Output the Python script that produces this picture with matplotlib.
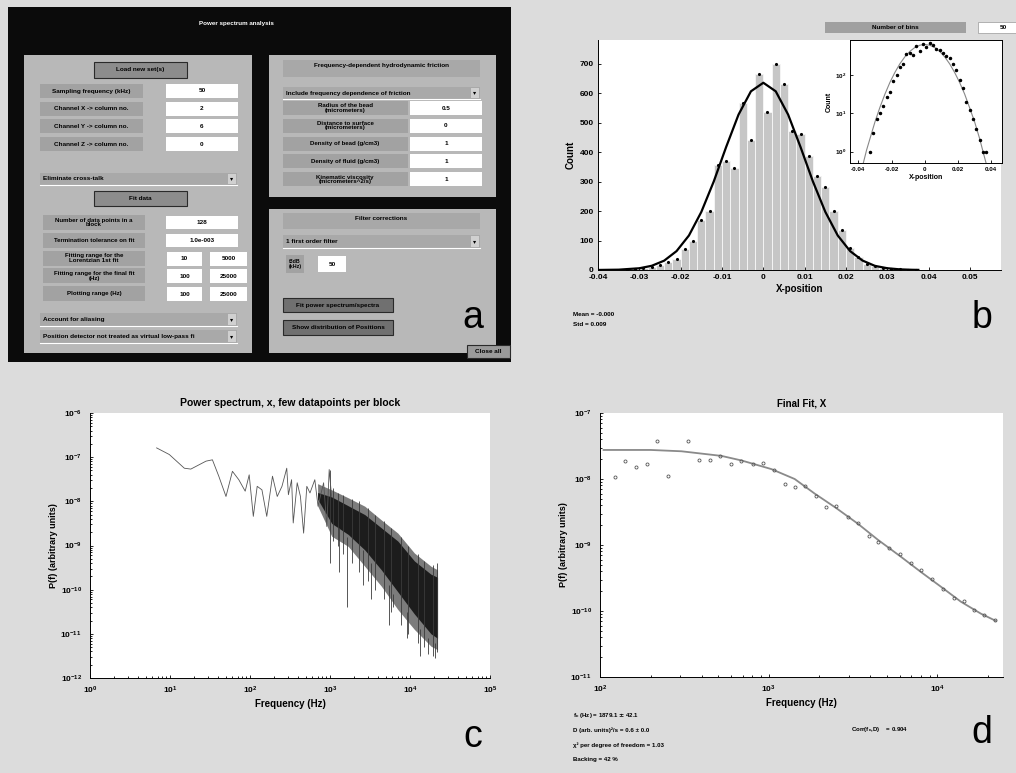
import numpy as np
import matplotlib
matplotlib.use("Agg")
import matplotlib.pyplot as plt
from matplotlib.patches import Rectangle

W, H = 1016, 773

# ---- panel b: histogram of X positions ----
bin_centers = [-0.033, -0.031, -0.029, -0.027, -0.025, -0.023, -0.021, -0.019,
               -0.017, -0.015, -0.013, -0.011, -0.009, -0.007, -0.005, -0.003,
               -0.001, 0.001, 0.003, 0.005, 0.007, 0.009, 0.011, 0.013, 0.015,
               0.017, 0.019, 0.021, 0.023, 0.025, 0.027, 0.029, 0.031, 0.033,
               0.035, 0.037]
bin_counts = [1, 3, 7, 10, 16, 26, 36, 70, 100, 168, 200, 355, 370, 345, 568,
              440, 665, 535, 700, 630, 470, 460, 385, 320, 280, 200, 135, 75,
              45, 20, 12, 7, 4, 2, 1, 1]
gauss_x = [-0.040, -0.035, -0.030, -0.027, -0.024, -0.021, -0.018, -0.015,
           -0.012, -0.009, -0.006, -0.003, 0.0, 0.003, 0.006, 0.009, 0.012,
           0.015, 0.018, 0.021, 0.024, 0.027, 0.030, 0.033, 0.036, 0.0375]
gauss_y = [0.15, 1.1, 5.9, 14.3, 31.6, 64, 117, 197, 300, 417, 527, 606, 635,
           606, 527, 417, 300, 197, 117, 64, 32, 14, 6, 2.2, 0.7, 0.4]
hist_ticks = [-0.04, -0.03, -0.02, -0.01, 0, 0.01, 0.02, 0.03, 0.04, 0.05]
hist_ticklabels = ["-0.04", "-0.03", "-0.02", "-0.01", "0", "0.01", "0.02",
                   "0.03", "0.04", "0.05"]

# ---- panel c: raw power spectrum ----
spec_f = [6.8, 9.8, 15.1, 18.2, 28.2, 33.9, 40.7, 50.1, 60.3, 72.4, 87.1, 97.7,
          110, 123, 141, 162, 191, 219, 251, 288, 302, 331, 347, 389, 427, 468,
          513, 562, 646, 708, 832, 912, 977, 1047]
spec_logp = [-6.79, -6.94, -7.25, -7.27, -7.09, -7.06, -7.43, -7.89, -7.32,
             -7.51, -7.77, -7.40, -8.34, -7.66, -7.74, -8.34, -7.43, -7.89,
             -7.66, -7.25, -7.85, -7.51, -8.49, -7.58, -7.89, -8.72, -7.66,
             -7.81, -7.51, -8.11, -7.58, -8.57, -7.28, -7.89]
band_f = [700, 1050, 1690, 2720, 4380, 7050, 11350, 18300, 22100]
band_outer_hi = [-7.60, -7.74, -7.92, -8.11, -8.42, -8.72, -9.17, -9.47, -9.55]
band_outer_lo = [-8.10, -8.79, -9.02, -9.47, -9.92, -10.45, -10.90, -11.28, -11.36]
band_core_hi = [-7.80, -7.90, -8.10, -8.30, -8.60, -8.90, -9.35, -9.65, -9.72]
band_core_lo = [-7.95, -8.50, -8.75, -9.10, -9.55, -10.05, -10.55, -11.00, -11.10]
spike_f = [1000, 1100, 1250, 1300, 1450, 1650, 1900, 2300, 2600, 3000, 3300,
           3600, 4800, 5500, 5800, 6100, 7800, 9200, 9500, 12500, 13500, 15000,
           17000, 19500, 20500, 21800]
spike_top = [-7.30, -7.70, -7.80, -8.60, -7.85, -8.80, -7.95, -8.00, -9.10,
             -8.15, -9.40, -8.30, -8.45, -9.90, -8.60, -10.10, -8.80, -10.50,
             -9.00, -9.20, -10.90, -9.35, -11.10, -9.45, -11.20, -9.40]
spike_bot = [-9.40, -8.90, -9.00, -9.60, -9.20, -10.40, -9.40, -9.60, -9.90,
             -9.80, -10.20, -10.00, -10.20, -10.80, -10.50, -10.40, -10.80,
             -11.10, -11.00, -11.20, -11.50, -11.30, -11.45, -11.50, -11.55,
             -11.40]

# ---- panel d: blocked spectrum and final fit ----
blk_f = [123, 141, 163, 189, 219, 254, 334, 386, 448, 513, 601, 689, 807, 925,
         1076, 1245, 1426, 1648, 1914, 2193, 2512, 2944, 3373, 3908, 4477,
         5200, 6039, 6982, 7998, 9247, 10765, 12503, 14322, 16558, 18967, 21928]
blk_logp = [-7.97, -7.73, -7.82, -7.78, -7.43, -7.95, -7.42, -7.71, -7.71,
            -7.65, -7.78, -7.73, -7.78, -7.75, -7.87, -8.07, -8.12, -8.10,
            -8.26, -8.43, -8.41, -8.58, -8.67, -8.86, -8.96, -9.04, -9.14,
            -9.27, -9.38, -9.52, -9.66, -9.81, -9.85, -9.99, -10.06, -10.13]
fit_f = [105, 200, 304, 525, 692, 1038, 1426, 1871, 2512, 3388, 4436, 6095,
         8000, 10471, 13804, 18113, 22233]
fit_logp = [-7.56, -7.56, -7.58, -7.65, -7.72, -7.85, -8.00, -8.22, -8.44,
            -8.68, -8.92, -9.18, -9.41, -9.63, -9.86, -10.04, -10.15]

# fit results printed under panel d
fit_results = [r"f$_c$ (Hz) = 1879.1 $\pm$ 42.1",
               "D (arb. units)\u00b2/s = 0.6 \u00b1 0.0",
               "\u03c7\u00b2 per degree of freedom = 1.03",
               "Backing = 42 %"]

plt.rcParams['font.family'] = ['Liberation Sans', 'DejaVu Sans']
plt.rcParams['font.weight'] = 'bold'
plt.rcParams['axes.titleweight'] = 'bold'
plt.rcParams['axes.labelweight'] = 'bold'
plt.rcParams['mathtext.default'] = 'bf'

fig = plt.figure(figsize=(W / 100, H / 100), dpi=100, facecolor='#dcdcdc')


def px_axes(x0, y0, x1, y1):
    return fig.add_axes([x0 / W, 1 - y1 / H, (x1 - x0) / W, (y1 - y0) / H])


def style(ax, box=False, size=6):
    ax.tick_params(which='both', direction='in', labelsize=size, width=0.6,
                   length=2.5, pad=3)
    ax.tick_params(which='minor', length=1.5)
    for s in ['top', 'right']:
        ax.spines[s].set_visible(box)
    for s in ax.spines.values():
        s.set_linewidth(0.7)


# ---- panel b ----
axb = px_axes(598, 40, 1001, 270)
axb.bar(bin_centers, bin_counts, width=0.002, color='#c6c6c6',
        edgecolor='#f4f4f4', linewidth=0.7)
axb.plot(bin_centers, bin_counts, 'k.', ms=2.5)
axb.plot(gauss_x, gauss_y, color='black', lw=1.6)
axb.set_xlim(-0.04, 0.0575)
axb.set_ylim(0, 780)
axb.set_xticks(hist_ticks)
axb.set_xticklabels(hist_ticklabels)
axb.set_yticks(range(0, 800, 100))
axb.set_xlabel("X-position", fontsize=7, labelpad=2)
axb.set_ylabel("Count", fontsize=7, labelpad=3)
style(axb)

axi = px_axes(850, 40, 1002, 163)
axi.semilogy(gauss_x, gauss_y, color='#888888', lw=0.8)
axi.semilogy(bin_centers, bin_counts, 'k.', ms=3)
axi.set_xlim(-0.045, 0.0465)
axi.set_ylim(0.5, 830)
axi.set_xticks([-0.04, -0.02, 0, 0.02, 0.04])
axi.set_xticklabels(["-0.04", "-0.02", "0", "0.02", "0.04"])
axi.set_yticks([1, 10, 100])
axi.minorticks_off()
axi.set_xlabel("X-position", fontsize=5, labelpad=1)
axi.set_ylabel("Count", fontsize=5, labelpad=1)
style(axi, box=True, size=4.5)

# ---- panel c ----
axc = px_axes(90, 413, 490, 678)
axc.fill_between(band_f, 10.0 ** np.array(band_outer_lo),
                 10.0 ** np.array(band_outer_hi), color='#7c7c7c', lw=0)
axc.fill_between(band_f, 10.0 ** np.array(band_core_lo),
                 10.0 ** np.array(band_core_hi), color='#1c1c1c', lw=0)
axc.vlines(spike_f, 10.0 ** np.array(spike_bot), 10.0 ** np.array(spike_top),
           color='#3a3a3a', lw=0.6)
axc.loglog(spec_f, 10.0 ** np.array(spec_logp), color='#555555', lw=0.6)
axc.set_xlim(1, 1e5)
axc.set_ylim(1e-12, 1e-6)
axc.set_title("Power spectrum, x, few datapoints per block", fontsize=7.5, pad=5)
axc.set_xlabel("Frequency (Hz)", fontsize=7, labelpad=2)
axc.set_ylabel("P(f) (arbitrary units)", fontsize=6.5, labelpad=2)
style(axc)
axc.tick_params(axis='y', pad=6)
axc.tick_params(axis='x', pad=5)

# ---- panel d ----
axd = px_axes(600, 413, 1003, 677)
axd.loglog(fit_f, 10.0 ** np.array(fit_logp), color='#8a8a8a', lw=1.3)
axd.loglog(blk_f, 10.0 ** np.array(blk_logp), 'o', ms=2.2, mfc='none',
           mec='#555555', mew=0.6)
axd.set_xlim(100, 24500)
axd.set_ylim(1e-11, 1e-7)
axd.set_title("Final Fit, X", fontsize=7, pad=5)
axd.set_xlabel("Frequency (Hz)", fontsize=7, labelpad=2)
axd.set_ylabel("P(f) (arbitrary units)", fontsize=6.5, labelpad=2)
style(axd)
axd.tick_params(axis='y', pad=6)
axd.tick_params(axis='x', pad=5)

# ---- overlay in pixel coordinates: GUI of panel a, buttons, texts ----
ov = fig.add_axes([0, 0, 1, 1])
ov.set_xlim(0, W)
ov.set_ylim(H, 0)
ov.axis('off')
ov.set_zorder(10)


def box(x0, y0, x1, y1, fc, ec='none', lw=0.6):
    ov.add_patch(Rectangle((x0, y0), x1 - x0, y1 - y0, fc=fc, ec=ec, lw=lw))


def txt(x, y, s, size=4.6, color='black', ha='center', weight='bold'):
    ov.text(x, y, s, fontsize=size, color=color, ha=ha, va='center',
            fontweight=weight, linespacing=0.85)


def popup(x0, y0, x1, y1, s):
    box(x0, y0, x1, y1, '#a9a9a9')
    ov.plot([x0, x1], [y1, y1], color='white', lw=0.8)
    box(x1 - 9, y0 + 1, x1 - 1, y1 - 1, '#d0d0d0')
    txt(x1 - 5, (y0 + y1) / 2, "\u25be", size=4.5)
    txt(x0 + 3, (y0 + y1) / 2, s, ha='left')


def button(x0, y0, x1, y1, s, fc='#8c8c8c'):
    box(x0, y0, x1, y1, fc, ec='#2a2a2a', lw=0.8)
    txt((x0 + x1) / 2, (y0 + y1) / 2, s)


# panel a background
box(8, 7, 511, 362, '#0b0b0b')
txt(236, 24, "Power spectrum analysis", color='white', size=4.5)

# left group
box(24, 55, 252, 353, '#b8b8b8')
button(94, 62, 187, 78, "Load new set(s)")
load_rows = [("Sampling frequency (kHz)", "50"),
             ("Channel X -> column no.", "2"),
             ("Channel Y -> column no.", "6"),
             ("Channel Z -> column no.", "0")]
for i, (lab, val) in enumerate(load_rows):
    y0 = 84 + i * 17.7
    box(40, y0, 143, y0 + 14, '#a2a2a2')
    txt(91, y0 + 7, lab)
    box(166, y0, 238, y0 + 14, 'white')
    txt(202, y0 + 7, val)
popup(40, 173, 237, 185, "Eliminate cross-talk")
button(94, 191, 187, 206, "Fit data")
fit_rows = [("Number of data points in a\nblock", ["128"]),
            ("Termination tolerance on fit", ["1.0e-003"]),
            ("Fitting range for the\nLorentzian 1st fit", ["10", "5000"]),
            ("Fitting range for the final fit\n(Hz)", ["100", "25000"]),
            ("Plotting range (Hz)", ["100", "25000"])]
for i, (lab, vals) in enumerate(fit_rows):
    y0 = 215 + i * 17.8
    box(43, y0, 145, y0 + 15, '#a2a2a2')
    txt(94, y0 + 7.5, lab, size=4.4)
    if len(vals) == 1:
        box(166, y0 + 1, 238, y0 + 14, 'white')
        txt(202, y0 + 7.5, vals[0])
    else:
        box(167, y0 + 1, 202, y0 + 15, 'white')
        txt(184.5, y0 + 8, vals[0])
        box(210, y0 + 1, 247, y0 + 15, 'white')
        txt(228.5, y0 + 8, vals[1])
popup(40, 313, 237, 326, "Account for aliasing")
popup(40, 330, 237, 343,
      "Position detector not treated as virtual low-pass fi")

# right top group
box(269, 55, 496, 197, '#b8b8b8')
box(283, 60, 480, 77, '#a8a8a8')
txt(381, 66, "Frequency-dependent hydrodynamic friction")
popup(283, 87, 480, 99, "Include frequency dependence of friction")
hydro_rows = [("Radius of the bead\n(micrometers)", "0.5"),
              ("Distance to surface\n(micrometers)", "0"),
              ("Density of bead (g/cm3)", "1"),
              ("Density of fluid (g/cm3)", "1"),
              ("Kinematic viscosity\n(micrometers^2/s)", "1")]
for i, (lab, val) in enumerate(hydro_rows):
    y0 = 101 + i * 17.8
    box(283, y0, 408, y0 + 14, '#a2a2a2')
    txt(345, y0 + 7, lab, size=4.4)
    box(410, y0, 482, y0 + 14, 'white')
    txt(446, y0 + 7, val)

# right bottom group
box(269, 209, 496, 353, '#b8b8b8')
box(283, 213, 480, 229, '#a8a8a8')
txt(381, 219, "Filter corrections")
popup(283, 235, 480, 248, "1 first order filter")
box(286, 255, 304, 273, '#a2a2a2')
txt(295, 264, "f3dB\n(kHz)", size=3.8)
box(318, 256, 346, 272, 'white')
txt(332, 264, "50")
button(283, 298, 393, 312, "Fit power spectrum/spectra", fc='#707070')
button(283, 320, 393, 335, "Show distribution of Positions", fc='#707070')
button(467, 345, 510, 358, "Close all", fc='#9a9a9a')

# panel b controls and texts
box(825, 22, 966, 33, '#a0a0a0')
txt(895, 27.5, "Number of bins")
box(978, 22, 1016, 33, 'white', ec='#999999', lw=0.5)
txt(1003, 27.5, "50")
txt(573, 314, "Mean = -0.000", size=4.6, ha='left')
txt(573, 325, "Std = 0.009", size=4.6, ha='left')

# panel d fit results
for i, line in enumerate(fit_results):
    txt(573, 716 + i * 14.5, line, size=4.4, ha='left')
txt(851, 730, r"Corr(f$_c$,D)    = 0.904", size=4.4, ha='left')

# panel letters
for x, y, s in [(473, 318, "a"), (982, 318, "b"), (473, 737, "c"), (982, 733, "d")]:
    txt(x, y, s, size=27, weight='normal')

fig.savefig("out.png", dpi=100, facecolor=fig.get_facecolor())
